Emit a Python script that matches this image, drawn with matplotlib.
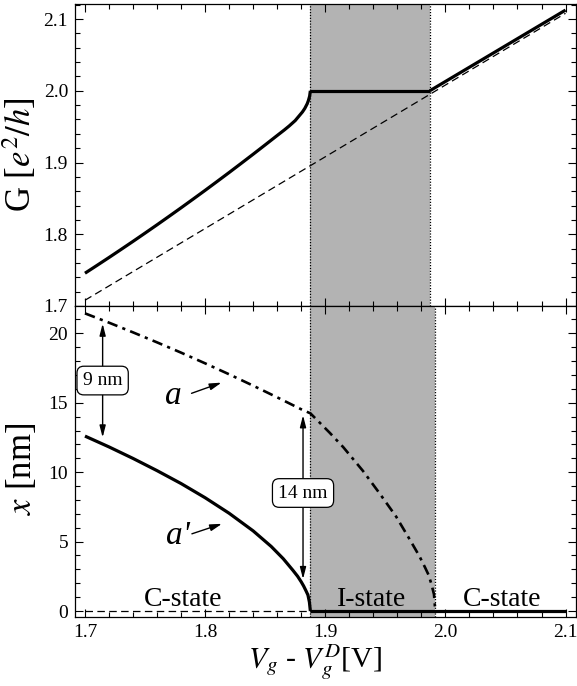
import matplotlib
matplotlib.use("Agg")
import matplotlib.pyplot as plt
from matplotlib.ticker import MultipleLocator

plt.rcParams['font.family'] = ['Liberation Serif', 'DejaVu Serif']
plt.rcParams['mathtext.fontset'] = 'stix'

# ---------------- data ----------------
# top panel: conductance G
g_x = [1.700, 1.710, 1.720, 1.730, 1.740, 1.750, 1.760, 1.770, 1.780, 1.790, 1.800,
       1.810, 1.820, 1.830, 1.840, 1.850, 1.860, 1.866, 1.870, 1.875, 1.878, 1.881,
       1.883, 1.885, 1.886, 1.887, 1.8876]
g_y = [1.7457, 1.7566, 1.7676, 1.7788, 1.7901, 1.8016, 1.8132, 1.8250, 1.8369, 1.8490, 1.8612,
       1.8736, 1.8861, 1.8988, 1.9116, 1.9246, 1.9377, 1.9455, 1.951, 1.9585, 1.9645, 1.9705,
       1.9755, 1.982, 1.9865, 1.9925, 2.000]
g_plateau_x = [1.8876, 1.987]
g_plateau_y = [2.000, 2.000]
g_right_x = [1.987, 2.100]
g_right_y = [2.000, 2.1125]
g0_x = [1.700, 2.100]
g0_y = [1.708, 2.108]

# bottom panel: a (dash-dot) and a' (solid)
a_x = [1.700, 1.720, 1.740, 1.760, 1.780, 1.800, 1.820, 1.840, 1.860, 1.880, 1.8876,
       1.895, 1.9037, 1.915, 1.9313, 1.945, 1.959, 1.970, 1.9785, 1.983, 1.986, 1.9885,
       1.9905, 1.991, 1.9915]
a_y = [21.44, 20.77, 20.07, 19.35, 18.61, 17.84, 17.05, 16.23, 15.39, 14.53, 14.24,
       13.6, 12.84, 11.8, 10.1, 8.5, 6.8, 5.2, 3.93, 3.15, 2.6, 1.9,
       1.2, 0.7, 0.0]
ap_x = [1.700, 1.720, 1.740, 1.760, 1.780, 1.800, 1.820, 1.840, 1.855, 1.865, 1.873,
        1.877, 1.880, 1.882, 1.884, 1.8856, 1.8868, 1.8876]
ap_y = [12.6, 11.82, 10.99, 10.11, 9.18, 8.16, 7.04, 5.77, 4.65, 3.77, 2.94,
        2.5, 2.1, 1.8, 1.45, 1.15, 0.65, 0.0]
zero_dash_x = [1.700, 1.8876]
zero_dash_y = [0.0, 0.0]
zero_solid_x = [1.8876, 2.100]
zero_solid_y = [0.0, 0.0]

# shaded I-state regions
shade_top = [1.8876, 1.987]
shade_bot = [1.8876, 1.9915]

# annotations
gap9_x, gap9_lo, gap9_hi = 1.7147, 12.5, 20.7
gap14_x, gap14_lo, gap14_hi = 1.8815, 2.3, 14.1

# ---------------- figure ----------------
fig = plt.figure(figsize=(5.77, 6.86), dpi=100)
L, R = 75/577, 575.5/577
ax1 = fig.add_axes([L, 1-306/686, R-L, (306-4)/686])
ax2 = fig.add_axes([L, 1-616.7/686, R-L, (616.7-306)/686])

XL = (1.6917, 2.1083)
shade_col = '#b3b3b3'

# top
ax1.axvspan(*shade_top, color=shade_col, lw=0, zorder=0)
for xv in shade_top:
    ax1.axvline(xv, color='black', lw=0.9, ls=(0, (1, 1.3)), zorder=1)
ax1.plot(g0_x, g0_y, color='black', lw=0.9, ls=(0, (6, 3.5)), zorder=2)
ax1.plot(g_x, g_y, color='black', lw=2.3, solid_capstyle='butt', solid_joinstyle='round', zorder=3)
ax1.plot(g_plateau_x, g_plateau_y, color='black', lw=2.3, solid_capstyle='butt', zorder=3)
ax1.plot(g_right_x, g_right_y, color='black', lw=2.3, solid_capstyle='butt', zorder=3)
ax1.set_xlim(*XL)
ax1.set_ylim(1.7, 2.121)

# bottom
ax2.axvspan(*shade_bot, color=shade_col, lw=0, zorder=0)
for xv in shade_bot:
    ax2.axvline(xv, color='black', lw=0.9, ls=(0, (1, 1.3)), zorder=1)
ax2.plot(zero_dash_x, zero_dash_y, color='black', lw=0.9, ls=(0, (6, 3.5)), zorder=2)
ax2.plot(zero_solid_x, zero_solid_y, color='black', lw=2.3, solid_capstyle='butt', zorder=3)
ax2.plot(a_x, a_y, color='black', lw=1.9, ls=(0, (4, 2, 1.2, 2)), dash_capstyle='butt', zorder=3)
ax2.plot(ap_x, ap_y, color='black', lw=2.3, solid_capstyle='butt', solid_joinstyle='round', zorder=3)
ax2.set_xlim(*XL)
ax2.set_ylim(-0.41, 21.97)

for ax in (ax1, ax2):
    ax.tick_params(which='both', direction='in', top=True, right=True, width=0.8,
                   labelsize=14, pad=5)
    ax.tick_params(which='major', length=6)
    ax.tick_params(which='minor', length=3.5)
    ax.xaxis.set_major_locator(MultipleLocator(0.1))
    ax.xaxis.set_minor_locator(MultipleLocator(0.02))
    for s in ax.spines.values():
        s.set_linewidth(0.9)

ax1.yaxis.set_major_locator(MultipleLocator(0.1))
ax1.yaxis.set_minor_locator(MultipleLocator(0.02))
ax1.tick_params(labelbottom=False)
ax1.set_yticks([1.7, 1.8, 1.9, 2.0, 2.1])
ax1.set_yticklabels(['1.7', '1.8', '1.9', '2.0', '2.1'])

ax2.yaxis.set_major_locator(MultipleLocator(5))
ax2.yaxis.set_minor_locator(MultipleLocator(1))
ax2.set_xticks([1.7, 1.8, 1.9, 2.0, 2.1])
ax2.set_xticklabels(['1.7', '1.8', '1.9', '2.0', '2.1'])

ax1.set_ylabel('G [$e^{2}/h$]', fontsize=25)
ax1.yaxis.set_label_coords(-0.072, 0.5)
ax2.set_ylabel('$x$ [nm]', fontsize=25)
ax2.yaxis.set_label_coords(-0.072, 0.475)
ax2.set_xlabel('$V_g$ - $V_g^D$[V]', fontsize=21.5)
ax2.xaxis.set_label_coords(0.48, -0.085)

# double arrows with boxes
arw = dict(arrowstyle='<|-|>,head_length=0.7,head_width=0.18', lw=1.0, color='black',
           shrinkA=0, shrinkB=0)
ax2.annotate('', xy=(gap9_x, gap9_hi), xytext=(gap9_x, gap9_lo), arrowprops=arw, zorder=4)
ax2.annotate('', xy=(gap14_x, gap14_hi), xytext=(gap14_x, gap14_lo), arrowprops=arw, zorder=4)
box = dict(boxstyle='round,pad=0.3,rounding_size=0.35', fc='white', ec='black', lw=0.9)
ax2.text(gap9_x, 16.6, '9 nm', fontsize=14, ha='center', va='center', bbox=box, zorder=5)
ax2.text(gap14_x, 8.5, '14 nm', fontsize=14, ha='center', va='center', bbox=box, zorder=5)

# curve labels
sarw = dict(arrowstyle='-|>,head_length=0.7,head_width=0.2', lw=1.0, color='black',
            shrinkA=0, shrinkB=0)
ax2.text(1.7734, 15.5, 'a', fontsize=24, style='italic', ha='center', va='center')
ax2.annotate('', xy=(1.8136, 16.45), xytext=(1.7887, 15.68), arrowprops=sarw)
ax2.text(1.7773, 5.4, "a'", fontsize=24, style='italic', ha='center', va='center')
ax2.annotate('', xy=(1.814, 6.28), xytext=(1.789, 5.56), arrowprops=sarw)

# state labels
ax2.text(1.7815, 0.85, 'C-state', fontsize=20, ha='center', va='center')
ax2.text(1.9386, 0.85, 'I-state', fontsize=20, ha='center', va='center')
ax2.text(2.0475, 0.85, 'C-state', fontsize=20, ha='center', va='center')

fig.savefig('out.png', dpi=100)
